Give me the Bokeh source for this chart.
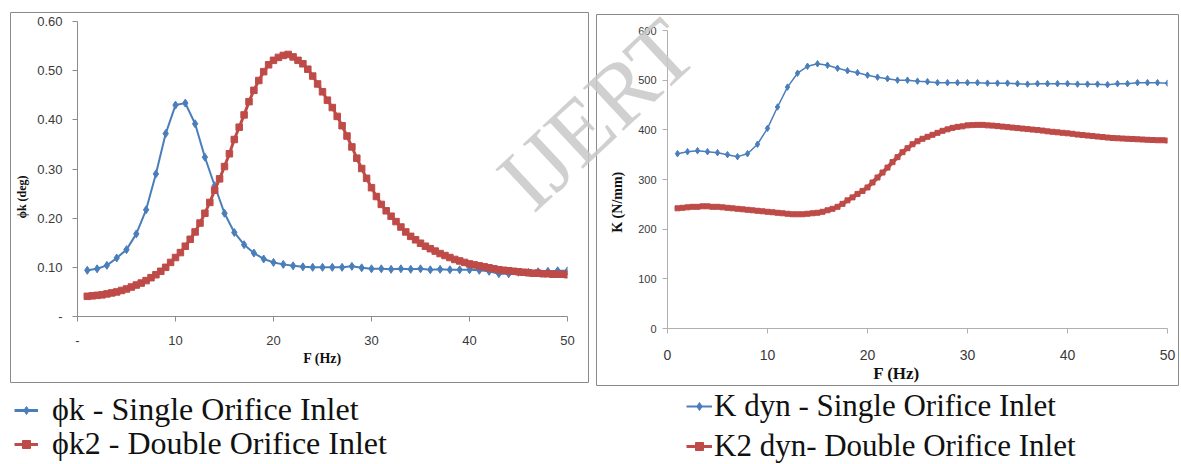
import math
from bokeh.plotting import figure
from bokeh.models import (Range1d, FixedTicker, Legend, LegendItem, Label, GridBox)
from bokeh.embed import file_html
from bokeh.resources import INLINE

# ---------------- data ----------------
f_single = list(range(1, 51))
f_double = [1.0 + 0.5 * i for i in range(99)]

phi_single = [0.094, 0.097, 0.104, 0.119, 0.136, 0.168, 0.217, 0.290, 0.372, 0.430,
              0.434, 0.392, 0.324, 0.266, 0.210, 0.171, 0.146, 0.129, 0.117, 0.110,
              0.106, 0.103, 0.101, 0.100, 0.100, 0.100, 0.100, 0.102, 0.099, 0.097,
              0.097, 0.096, 0.097, 0.096, 0.097, 0.095, 0.096, 0.095, 0.095, 0.095,
              0.094, 0.092, 0.087, 0.087, 0.090, 0.090, 0.091, 0.092, 0.093, 0.093]

phi_double = [0.041, 0.042, 0.043, 0.044, 0.046, 0.048, 0.050, 0.053, 0.056, 0.060,
              0.064, 0.068, 0.073, 0.079, 0.085, 0.092, 0.100, 0.110, 0.120, 0.130,
              0.143, 0.157, 0.172, 0.190, 0.210, 0.232, 0.257, 0.280, 0.305, 0.331,
              0.360, 0.385, 0.410, 0.437, 0.460, 0.480, 0.498, 0.512, 0.521, 0.527,
              0.531, 0.533, 0.528, 0.521, 0.514, 0.503, 0.489, 0.473, 0.457, 0.440,
              0.425, 0.407, 0.388, 0.367, 0.345, 0.322, 0.301, 0.281, 0.262, 0.244,
              0.228, 0.215, 0.204, 0.193, 0.182, 0.172, 0.163, 0.156, 0.149, 0.143,
              0.138, 0.133, 0.128, 0.124, 0.120, 0.116, 0.113, 0.110, 0.107, 0.105,
              0.103, 0.101, 0.099, 0.097, 0.095, 0.094, 0.093, 0.092, 0.091, 0.090,
              0.089, 0.088, 0.088, 0.087, 0.087, 0.086, 0.086, 0.086, 0.085]

k_single = [352, 356, 358, 356, 354, 350, 346, 352, 371, 403,
            446, 486, 514, 528, 533, 530, 524, 519, 515, 510,
            506, 503, 500, 500, 498, 497, 495, 495, 495, 495,
            495, 494, 494, 494, 493, 492, 493, 493, 493, 493,
            492, 492, 492, 491, 493, 493, 495, 495, 495, 494]

k_double = [242, 243, 244, 245, 245, 246, 246, 245, 245, 244,
            243, 242, 241, 240, 239, 238, 237, 236, 235, 234,
            233, 232, 231, 230, 230, 230, 231, 232, 233, 235,
            238, 241, 245, 251, 258, 264, 271, 277, 284, 294,
            304, 314, 324, 335, 345, 355, 363, 371, 377, 382,
            386, 390, 394, 398, 401, 404, 406, 407, 409, 409.5,
            410, 410, 409, 408.5, 407.5, 406.5, 405.5, 404.5, 403.5, 402.5,
            401.5, 400.5, 399.5, 398.5, 397, 396, 395, 394, 393, 392,
            390.5, 389.5, 388.5, 387.5, 386.5, 385.5, 384.5, 383.5, 383, 382.5,
            382, 381.5, 381, 380.5, 380, 379.5, 379, 379, 378.5]

x_ticks = [0, 10, 20, 30, 40, 50]
x_tick_labels_left = ["-", "10", "20", "30", "40", "50"]
y_ticks_left = [0, 0.1, 0.2, 0.3, 0.4, 0.5, 0.6]
y_tick_labels_left = ["-", "0.10", "0.20", "0.30", "0.40", "0.50", "0.60"]
y_ticks_right = [0, 100, 200, 300, 400, 500, 600]

labels_left = ["\u03d5k - Single Orifice Inlet", "\u03d5k2 - Double Orifice Inlet"]
labels_right = ["K dyn - Single Orifice Inlet", "K2 dyn- Double Orifice Inlet"]
x_title = "F (Hz)"
y_title_left = "\u03d5k  (deg)"
y_title_right = "K  (N/mm)"

BLUE = "#4A7EBB"
RED = "#BE4B48"
TICK_FONT = "Liberation Sans"
SERIF = "Liberation Serif"
W, H = 1181, 464


def style_axes(p, axis_color, xfs, yfs, xstand, ystand):
    for ax in (p.xaxis[0], p.yaxis[0]):
        ax.axis_line_color = axis_color
        ax.major_tick_line_color = axis_color
        ax.major_tick_out = 5
        ax.major_tick_in = 0
        ax.minor_tick_line_color = None
        ax.major_label_text_font = TICK_FONT
        ax.major_label_text_color = "#3a3a3a"
        ax.axis_label_text_font = SERIF
        ax.axis_label_text_font_style = "bold"
        ax.axis_label_text_color = "#111111"
    p.xaxis[0].major_label_text_font_size = xfs
    p.yaxis[0].major_label_text_font_size = yfs
    p.xaxis[0].major_label_standoff = xstand
    p.yaxis[0].major_label_standoff = ystand
    p.grid.visible = False
    p.outline_line_color = None


# ---------------- left chart ----------------
p1 = figure(width=590, height=H, x_range=Range1d(0, 50), y_range=Range1d(0, 0.6),
            output_backend="svg", toolbar_location=None,
            min_border_left=77, min_border_right=23, min_border_top=21, min_border_bottom=148,
            x_axis_label=x_title)
p1.frame_align = False
p1.xaxis.ticker = FixedTicker(ticks=x_ticks)
p1.xaxis.major_label_overrides = dict(zip(x_ticks, x_tick_labels_left))
p1.yaxis.ticker = FixedTicker(ticks=y_ticks_left)
p1.yaxis.major_label_overrides = dict(zip(y_ticks_left, y_tick_labels_left))
style_axes(p1, "#8c8c8c", "13px", "13px", 14, 10)
p1.xaxis.axis_label_text_font_size = "14px"
p1.xaxis.axis_label_standoff = 3

p1.line(f_single, phi_single, line_color=BLUE, line_width=2)
p1.scatter(f_single, phi_single, marker="diamond", size=8, color=BLUE)
p1.line(f_double, phi_double, line_color=RED, line_width=3)
p1.scatter(f_double, phi_double, marker="square", size=6.5, color=RED)

# ---------------- right chart ----------------
p2 = figure(width=591, height=H, x_range=Range1d(0, 50), y_range=Range1d(0, 600),
            output_backend="svg", toolbar_location=None,
            min_border_left=77, min_border_right=14, min_border_top=30, min_border_bottom=136)
p2.frame_align = False
p2.xaxis.ticker = FixedTicker(ticks=x_ticks)
p2.yaxis.ticker = FixedTicker(ticks=y_ticks_right)
style_axes(p2, "#b0b0b0", "14px", "11px", 16, 6)

p2.line(f_single, k_single, line_color=BLUE, line_width=1.5)
p2.scatter(f_single, k_single, marker="diamond", size=6.5, color=BLUE)
p2.line(f_double, k_double, line_color=RED, line_width=4)
p2.scatter(f_double, k_double, marker="square", size=5, color=RED)

# ---------------- overlay: chart borders, titles, legends, watermark ----------------
ov = figure(width=W, height=H, x_range=Range1d(0, W), y_range=Range1d(H, 0),
            output_backend="svg", toolbar_location=None,
            x_axis_type=None, y_axis_type=None,
            min_border_left=0, min_border_right=0, min_border_top=0, min_border_bottom=0)
ov.frame_align = False
ov.grid.visible = False
ov.outline_line_color = None
ov.background_fill_color = None
ov.border_fill_color = None

ov.quad(left=[10, 596], right=[588, 1178], top=[12, 14], bottom=[382, 385],
        fill_color=None, line_color="#8a8a8a", line_width=1)

# axis titles placed like the reference
ov.add_layout(Label(x=21, y=195, text=y_title_left, angle=math.pi / 2, text_font=SERIF,
                    text_font_style="bold", text_font_size="12px", text_color="#111111",
                    text_align="center", text_baseline="middle"))
ov.add_layout(Label(x=617, y=200, text=y_title_right, angle=math.pi / 2, text_font=SERIF,
                    text_font_style="bold", text_font_size="14px", text_color="#111111",
                    text_align="center", text_baseline="middle"))
ov.add_layout(Label(x=896, y=373, text=x_title, text_font=SERIF,
                    text_font_style="bold", text_font_size="17px", text_color="#111111",
                    text_align="center", text_baseline="middle"))

# legend sample glyphs (off-canvas points, only their legend swatches are seen)
off_x, off_y = [-100, -90], [-100, -100]
d_l1 = ov.line(off_x, off_y, line_color=BLUE, line_width=3)
d_s1 = ov.scatter(off_x, off_y, marker="diamond", size=9, color=BLUE)
d_l2 = ov.line(off_x, off_y, line_color=RED, line_width=3)
d_s2 = ov.scatter(off_x, off_y, marker="square", size=9, color=RED)
d_l3 = ov.line(off_x, off_y, line_color=BLUE, line_width=2)
d_s3 = ov.scatter(off_x, off_y, marker="diamond", size=7, color=BLUE)
d_l4 = ov.line(off_x, off_y, line_color=RED, line_width=3)
d_s4 = ov.scatter(off_x, off_y, marker="square", size=8, color=RED)


def add_leg(label, rens, loc, fs, gw, stand):
    leg = Legend(items=[LegendItem(label=label, renderers=rens, index=0)], location=loc,
                 label_text_font=SERIF, label_text_font_size=fs, label_text_color="#111111",
                 glyph_width=gw, glyph_height=20, label_standoff=stand, spacing=0,
                 padding=0, margin=0, border_line_color=None, background_fill_alpha=0)
    ov.add_layout(leg)


add_leg(labels_left[0], [d_l1, d_s1], (14, 36), "32px", 24, 14)
add_leg(labels_left[1], [d_l2, d_s2], (14, 2), "32px", 24, 14)
add_leg(labels_right[0], [d_l3, d_s3], (686, 40), "31px", 26, 2)
add_leg(labels_right[1], [d_l4, d_s4], (686, 0), "31px", 26, 2)

ov.add_layout(Label(x=512, y=192, text="IJERT", angle=0.75, text_font=SERIF,
                    text_font_size="90px", text_color="#c8c8c8", text_alpha=0.85,
                    text_baseline="alphabetic"))

layout = GridBox(children=[(p1, 0, 0), (p2, 0, 1), (ov, 0, 0, 1, 2)], spacing=0)
open("out.html", "w").write(file_html(layout, INLINE))
